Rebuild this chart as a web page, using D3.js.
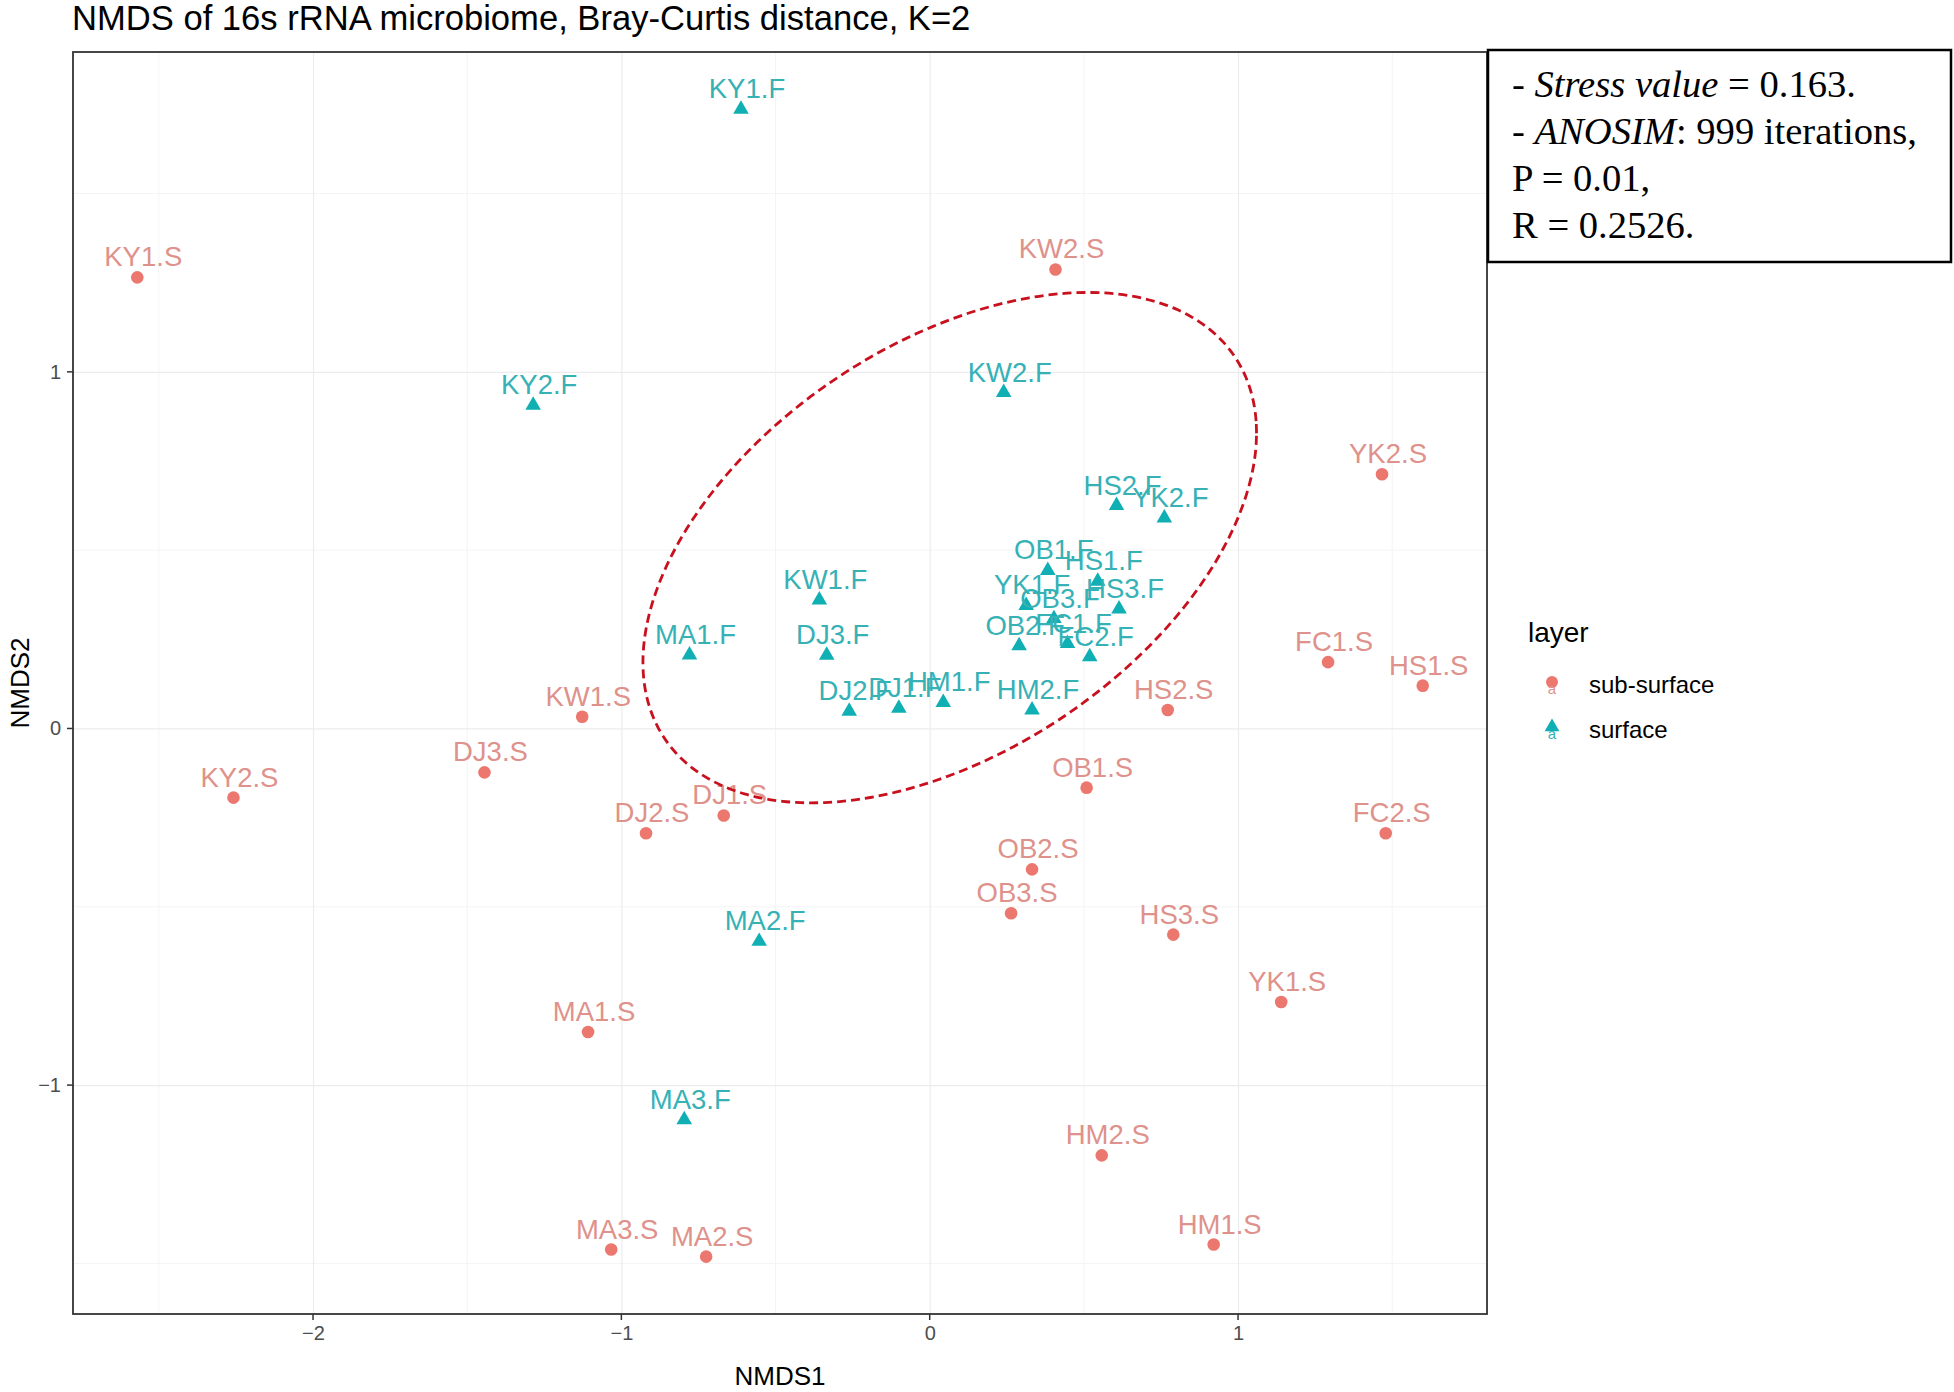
<!DOCTYPE html>
<html>
<head>
<meta charset="utf-8">
<script src="https://cdn.jsdelivr.net/npm/d3@7"></script>
<style>
  body { margin: 0; background: #fff; }
  text { font-family: "Liberation Sans", Arial, sans-serif; }
</style>
</head>
<body>
<div id="chart"></div>
<script>
// sample names and NMDS scores
const subNames = ["KY1.S", "KW2.S", "YK2.S", "FC1.S", "HS1.S", "HS2.S", "KW1.S", "DJ3.S", "KY2.S", "DJ1.S", "DJ2.S",
  "OB1.S", "FC2.S", "OB2.S", "OB3.S", "HS3.S", "YK1.S", "MA1.S", "HM2.S", "HM1.S", "MA3.S", "MA2.S"];
const subX = [-2.570, 0.408, 1.467, 1.292, 1.599, 0.772, -1.127, -1.444, -2.258, -0.668, -0.920,
  0.509, 1.479, 0.332, 0.264, 0.790, 1.140, -1.108, 0.558, 0.921, -1.033, -0.725];
const subY = [1.265, 1.287, 0.713, 0.186, 0.120, 0.052, 0.033, -0.123, -0.194, -0.244, -0.294,
  -0.166, -0.294, -0.395, -0.518, -0.578, -0.767, -0.851, -1.197, -1.447, -1.461, -1.481];

const surfNames = ["KY1.F", "KY2.F", "KW2.F", "HS2.F", "YK2.F", "OB1.F", "HS1.F", "KW1.F", "YK1.F", "HS3.F", "OB3.F",
  "FC1.F", "OB2.F", "FC2.F", "MA1.F", "DJ3.F", "DJ2.F", "DJ1.F", "HM1.F", "HM2.F", "MA2.F", "MA3.F"];
const surfX = [-0.612, -1.286, 0.240, 0.606, 0.761, 0.383, 0.545, -0.358, 0.313, 0.614, 0.403,
  0.447, 0.290, 0.519, -0.779, -0.334, -0.261, -0.100, 0.044, 0.332, -0.553, -0.796];
const surfY = [1.736, 0.906, 0.942, 0.625, 0.590, 0.443, 0.413, 0.360, 0.345, 0.335, 0.308,
  0.238, 0.232, 0.201, 0.206, 0.205, 0.048, 0.057, 0.073, 0.052, -0.597, -1.097];

const layers = ["sub-surface", "surface"];
const xTicks = [-2, -1, 0, 1];
const yTicks = [-1, 0, 1];

// ellipse drawn round the surface group: centre and Cholesky factor (data units)
const ellCentre = [0.065, 0.507];
const ellChol = [[0.995, 0], [0.322, 0.639]];

const statLines = [
  [["- ", false], ["Stress value", true], [" = 0.163.", false]],
  [["- ", false], ["ANOSIM", true], [": 999 iterations,", false]],
  [["P = 0.01,", false]],
  [["R = 0.2526.", false]]
];

const W = 1954, H = 1392;
const panel = { left: 73, right: 1487, top: 52, bottom: 1314 };
const pointColor = { "sub-surface": "#EC776E", "surface": "#10AFB3" };
const labelColor = { "sub-surface": "#DE928B", "surface": "#36B1B5" };

const points = [];
subNames.forEach((n, i) => points.push({ name: n, x: subX[i], y: subY[i], layer: "sub-surface" }));
surfNames.forEach((n, i) => points.push({ name: n, x: surfX[i], y: surfY[i], layer: "surface" }));

// ggplot-style 5% expansion of the data range
function expand(ext) {
  const pad = (ext[1] - ext[0]) * 0.05;
  return [ext[0] - pad, ext[1] + pad];
}
const x = d3.scaleLinear().domain(expand(d3.extent(points, d => d.x))).range([panel.left, panel.right]);
const y = d3.scaleLinear().domain(expand(d3.extent(points, d => d.y))).range([panel.bottom, panel.top]);

const svg = d3.select("#chart").append("svg").attr("width", W).attr("height", H);

svg.append("text")
  .attr("x", 72).attr("y", 30)
  .attr("font-size", 34.6).attr("fill", "#000")
  .text("NMDS of 16s rRNA microbiome, Bray-Curtis distance, K=2");

const pw = panel.right - panel.left, ph = panel.bottom - panel.top;

// grid: minor lines at the halves, major at ticks
const xMinor = d3.range(Math.ceil(x.domain()[0] - 0.5) + 0.5, x.domain()[1], 1);
const yMinor = d3.range(Math.ceil(y.domain()[0] - 0.5) + 0.5, y.domain()[1], 1);
const grid = svg.append("g");
grid.selectAll(".xmin").data(xMinor).enter().append("line")
  .attr("x1", d => x(d)).attr("x2", d => x(d)).attr("y1", panel.top).attr("y2", panel.bottom)
  .attr("stroke", "#F4F4F4").attr("stroke-width", 1);
grid.selectAll(".ymin").data(yMinor).enter().append("line")
  .attr("y1", d => y(d)).attr("y2", d => y(d)).attr("x1", panel.left).attr("x2", panel.right)
  .attr("stroke", "#F4F4F4").attr("stroke-width", 1);

svg.append("g").attr("transform", `translate(0,${panel.bottom})`)
  .call(d3.axisBottom(x).tickValues(xTicks).tickFormat(d3.format("d")).tickSize(-ph).tickPadding(12))
  .call(g => g.select(".domain").remove())
  .call(g => g.selectAll(".tick line").attr("stroke", "#ECECEC").attr("stroke-width", 1.2))
  .call(g => g.selectAll(".tick text").attr("font-size", 20).attr("fill", "#4D4D4D")
    .attr("font-family", "Liberation Sans, Arial, sans-serif"));

svg.append("g").attr("transform", `translate(${panel.left},0)`)
  .call(d3.axisLeft(y).tickValues(yTicks).tickFormat(d3.format("d")).tickSize(-pw).tickPadding(12))
  .call(g => g.select(".domain").remove())
  .call(g => g.selectAll(".tick line").attr("stroke", "#ECECEC").attr("stroke-width", 1.2))
  .call(g => g.selectAll(".tick text").attr("font-size", 20).attr("fill", "#4D4D4D")
    .attr("font-family", "Liberation Sans, Arial, sans-serif"));

// short outer ticks
svg.append("g").selectAll("line").data(xTicks).enter().append("line")
  .attr("x1", d => x(d)).attr("x2", d => x(d)).attr("y1", panel.bottom).attr("y2", panel.bottom + 6)
  .attr("stroke", "#333").attr("stroke-width", 1.5);
svg.append("g").selectAll("line").data(yTicks).enter().append("line")
  .attr("y1", d => y(d)).attr("y2", d => y(d)).attr("x1", panel.left - 6).attr("x2", panel.left)
  .attr("stroke", "#333").attr("stroke-width", 1.5);

// points
const triangle = d3.symbol().type(d3.symbolTriangle).size(105);
const marks = svg.append("g");
marks.selectAll("circle").data(points.filter(d => d.layer === "sub-surface")).enter().append("circle")
  .attr("cx", d => x(d.x)).attr("cy", d => y(d.y)).attr("r", 6.3)
  .attr("fill", pointColor["sub-surface"]);
marks.selectAll("path").data(points.filter(d => d.layer === "surface")).enter().append("path")
  .attr("d", triangle)
  .attr("transform", d => `translate(${x(d.x)},${y(d.y)})`)
  .attr("fill", pointColor["surface"]);

// labels
svg.append("g").selectAll("text").data(points).enter().append("text")
  .attr("x", d => x(d.x) + 6).attr("y", d => y(d.y) - 11)
  .attr("text-anchor", "middle").attr("font-size", 27.5)
  .attr("fill", d => labelColor[d.layer])
  .text(d => d.name);

// dashed ellipse
const ellPts = d3.range(0, 361, 3).map(a => {
  const t = a * Math.PI / 180;
  const u = Math.cos(t), v = Math.sin(t);
  return [ellCentre[0] + ellChol[0][0] * u + ellChol[0][1] * v,
          ellCentre[1] + ellChol[1][0] * u + ellChol[1][1] * v];
});
svg.append("path")
  .datum(ellPts)
  .attr("d", d3.line().x(d => x(d[0])).y(d => y(d[1])).curve(d3.curveCardinalClosed))
  .attr("fill", "none").attr("stroke", "#C8101E").attr("stroke-width", 2.8)
  .attr("stroke-dasharray", "9,5");

// panel border
svg.append("rect")
  .attr("x", panel.left).attr("y", panel.top).attr("width", pw).attr("height", ph)
  .attr("fill", "none").attr("stroke", "#333").attr("stroke-width", 1.8);

// axis titles
svg.append("text").attr("x", (panel.left + panel.right) / 2).attr("y", 1385)
  .attr("text-anchor", "middle").attr("font-size", 26).attr("fill", "#000").text("NMDS1");
svg.append("text").attr("transform", `translate(29,${(panel.top + panel.bottom) / 2}) rotate(-90)`)
  .attr("text-anchor", "middle").attr("font-size", 26).attr("fill", "#000").text("NMDS2");

// legend
const legend = svg.append("g").attr("transform", "translate(1528,0)");
legend.append("text").attr("x", 0).attr("y", 642).attr("font-size", 28).attr("fill", "#000").text("layer");
const keys = legend.selectAll(".key").data(layers).enter().append("g")
  .attr("transform", (d, i) => `translate(24,${682 + i * 45})`);
keys.filter(d => d === "sub-surface").append("circle").attr("r", 6).attr("fill", pointColor["sub-surface"]);
keys.filter(d => d === "surface").append("path").attr("d", d3.symbol().type(d3.symbolTriangle).size(95))
  .attr("fill", pointColor["surface"]);
keys.append("text").attr("y", 12).attr("text-anchor", "middle").attr("font-size", 15)
  .attr("fill", d => labelColor[d]).text("a");
keys.append("text").attr("x", 37).attr("y", 11).attr("font-size", 24).attr("fill", "#000").text(d => d);

// statistics box
const box = svg.append("g");
box.append("rect").attr("x", 1488).attr("y", 50).attr("width", 463).attr("height", 212)
  .attr("fill", "#fff").attr("stroke", "#000").attr("stroke-width", 2.5);
box.selectAll("text").data(statLines).enter().append("text")
  .attr("x", 1512).attr("y", (d, i) => 97 + i * 47)
  .attr("font-size", 38.6).attr("fill", "#000")
  .style("font-family", "'Liberation Serif', 'Times New Roman', serif")
  .selectAll("tspan").data(d => d).enter().append("tspan")
  .attr("font-style", d => d[1] ? "italic" : "normal")
  .text(d => d[0]);
</script>
</body>
</html>
